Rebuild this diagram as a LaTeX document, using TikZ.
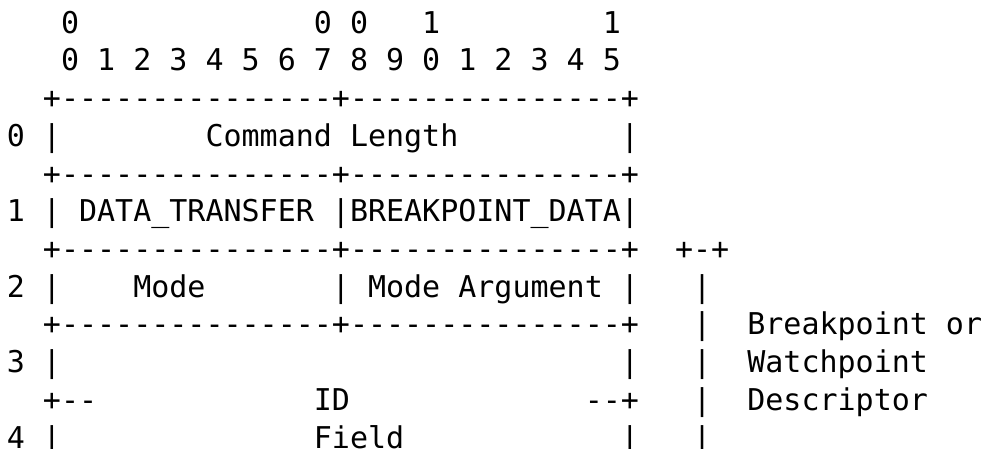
\documentclass[tikz,border=0pt]{standalone}
\usepackage{fontspec}
\setmonofont{DejaVu Sans Mono}
\newcommand{\cw}{9.03}   % column width in pt
\newcommand{\lh}{18.85}  % line pitch in pt
\newcommand{\seg}[4]{\node[asc] (#1) at ({3.43pt+#2*\cw pt},{-16.65pt-(#3-1)*\lh pt}) {#4};}
\begin{document}
\begin{tikzpicture}[asc/.style={anchor=base west,inner sep=0pt,outer sep=0pt,
    font=\ttfamily\fontsize{15}{18}\selectfont,text=black}]
\useasboundingbox (0,0) rectangle (492pt,-224.5pt);
% row 1
\seg{aa}{3}{1}{0}
\seg{ab}{17}{1}{0}
\seg{ac}{19}{1}{0}
\seg{ad}{23}{1}{1}
\seg{ae}{33}{1}{1}
% row 2
\seg{ba}{3}{2}{0 1 2 3 4 5 6 7 8 9 0 1 2 3 4 5}
% row 3
\seg{ca}{2}{3}{+---------------+---------------+}
% row 4
\seg{da}{0}{4}{0 |}
\seg{db}{11}{4}{Command Length}
\seg{dc}{34}{4}{|}
% row 5
\seg{ea}{2}{5}{+---------------+---------------+}
% row 6
\seg{fa}{0}{6}{1 | DATA\_TRANSFER |BREAKPOINT\_DATA|}
% row 7
\seg{ga}{2}{7}{+---------------+---------------+}
\seg{gb}{37}{7}{+-+}
% row 8
\seg{ha}{0}{8}{2 |}
\seg{hb}{7}{8}{Mode}
\seg{hc}{18}{8}{| Mode Argument |}
\seg{hd}{38}{8}{|}
% row 9
\seg{ia}{2}{9}{+---------------+---------------+}
\seg{ib}{38}{9}{|}
\seg{ic}{41}{9}{Breakpoint or}
% row 10
\seg{ja}{0}{10}{3 |}
\seg{jb}{34}{10}{|}
\seg{jc}{38}{10}{|}
\seg{jd}{41}{10}{Watchpoint}
% row 11
\seg{ka}{2}{11}{+--}
\seg{kb}{17}{11}{ID}
\seg{kc}{32}{11}{--+}
\seg{kd}{38}{11}{|}
\seg{ke}{41}{11}{Descriptor}
% row 12
\seg{la}{0}{12}{4 |}
\seg{lb}{17}{12}{Field}
\seg{lc}{34}{12}{|}
\seg{ld}{38}{12}{|}
\end{tikzpicture}
\end{document}
